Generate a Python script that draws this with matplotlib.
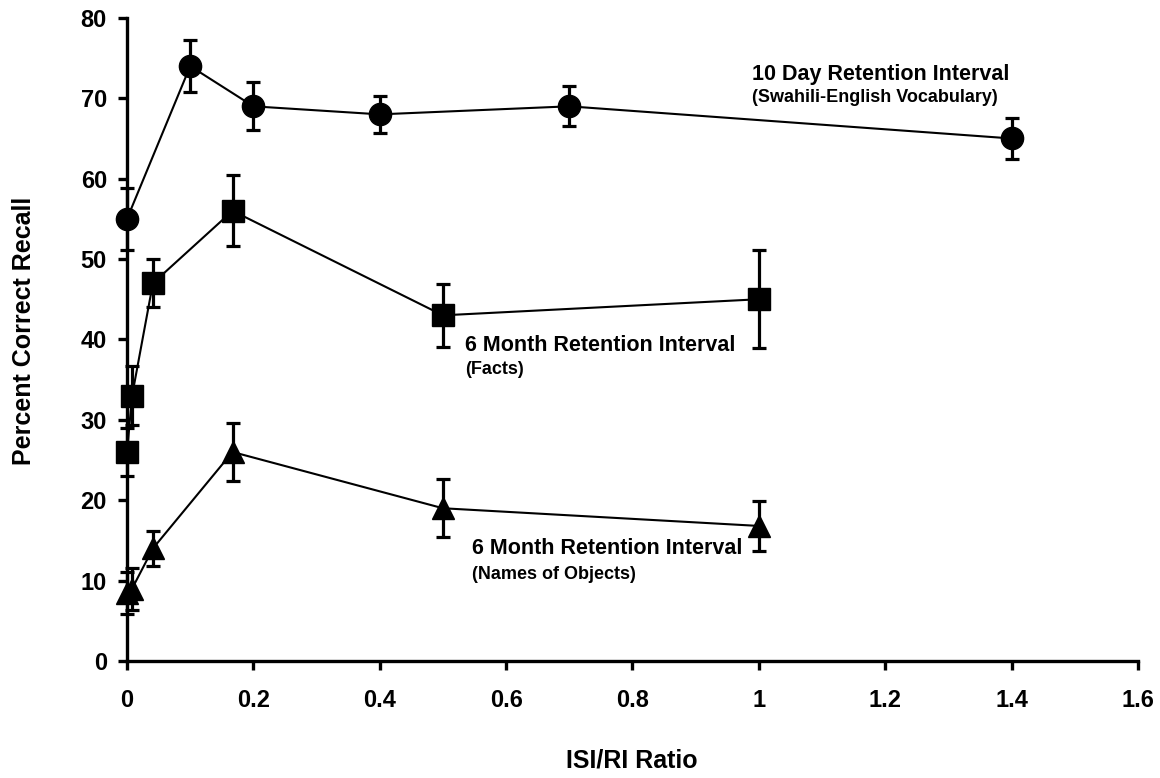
import matplotlib
matplotlib.use("Agg")
import matplotlib.pyplot as plt

plt.rcParams['font.family'] = ['Liberation Sans', 'DejaVu Sans']
plt.rcParams['font.weight'] = 'bold'

# 10 day retention interval (Swahili-English vocabulary)
day_x = [0, 0.1, 0.2, 0.4, 0.7, 1.4]
day_y = [55, 74, 69, 68, 69, 65]
day_err = [3.9, 3.2, 3.0, 2.3, 2.5, 2.6]

# 6 month retention interval (facts)
facts_x = [0, 0.008, 0.041, 0.167, 0.5, 1.0]
facts_y = [26, 33, 47, 56, 43, 45]
facts_err = [3.0, 3.7, 3.0, 4.4, 3.9, 6.1]

# 6 month retention interval (names of objects)
names_x = [0, 0.008, 0.041, 0.167, 0.5, 1.0]
names_y = [8.5, 9.0, 14, 26, 19, 16.8]
names_err = [2.6, 2.6, 2.2, 3.6, 3.6, 3.1]

x_ticks = [0, 0.2, 0.4, 0.6, 0.8, 1.0, 1.2, 1.4, 1.6]
x_tick_labels = ["0", "0.2", "0.4", "0.6", "0.8", "1", "1.2", "1.4", "1.6"]
y_ticks = list(range(0, 81, 10))

fig = plt.figure(figsize=(11.6, 7.78), dpi=100)
ax = fig.add_axes([0.1095, 0.1504, 0.8715, 0.8266])

style = dict(color="black", lw=1.5, elinewidth=2.3, capsize=4.7, capthick=2.3,
             zorder=3, clip_on=False)
ax.errorbar(day_x, day_y, yerr=day_err, marker="o", ms=16, **style)
ax.errorbar(facts_x, facts_y, yerr=facts_err, marker="s", ms=16, **style)
ax.errorbar(names_x, names_y, yerr=names_err, marker="^", ms=16, **style)

ax.set_xlim(0, 1.6)
ax.set_ylim(0, 80)
ax.set_xticks(x_ticks)
ax.set_xticklabels(x_tick_labels)
ax.set_yticks(y_ticks)
ax.tick_params(direction="out", length=6.5, width=2.4, labelsize=17)
ax.tick_params(axis="x", pad=14)
ax.tick_params(axis="y", pad=8)
for side in ["top", "right"]:
    ax.spines[side].set_visible(False)
for side in ["left", "bottom"]:
    ax.spines[side].set_linewidth(2.4)
for lab in ax.get_xticklabels() + ax.get_yticklabels():
    lab.set_fontweight("bold")

fig.text(632 / 1160, 0.0219, "ISI/RI Ratio", fontsize=18, fontweight="bold",
         ha="center", va="center")
fig.text(24 / 1160, 0.5746, "Percent Correct Recall", fontsize=18, fontweight="bold",
         ha="center", va="center", rotation=90)

ax.text(0.989, 73.0, "10 Day Retention Interval", fontsize=15.5, fontweight="bold", va="center")
ax.text(0.989, 70.1, "(Swahili-English Vocabulary)", fontsize=13, fontweight="bold", va="center")
ax.text(0.535, 39.3, "6 Month Retention Interval", fontsize=15.5, fontweight="bold", va="center")
ax.text(0.535, 36.2, "(Facts)", fontsize=13, fontweight="bold", va="center")
ax.text(0.546, 14.0, "6 Month Retention Interval", fontsize=15.5, fontweight="bold", va="center")
ax.text(0.546, 10.7, "(Names of Objects)", fontsize=13, fontweight="bold", va="center")

fig.savefig("out.png", dpi=100)
